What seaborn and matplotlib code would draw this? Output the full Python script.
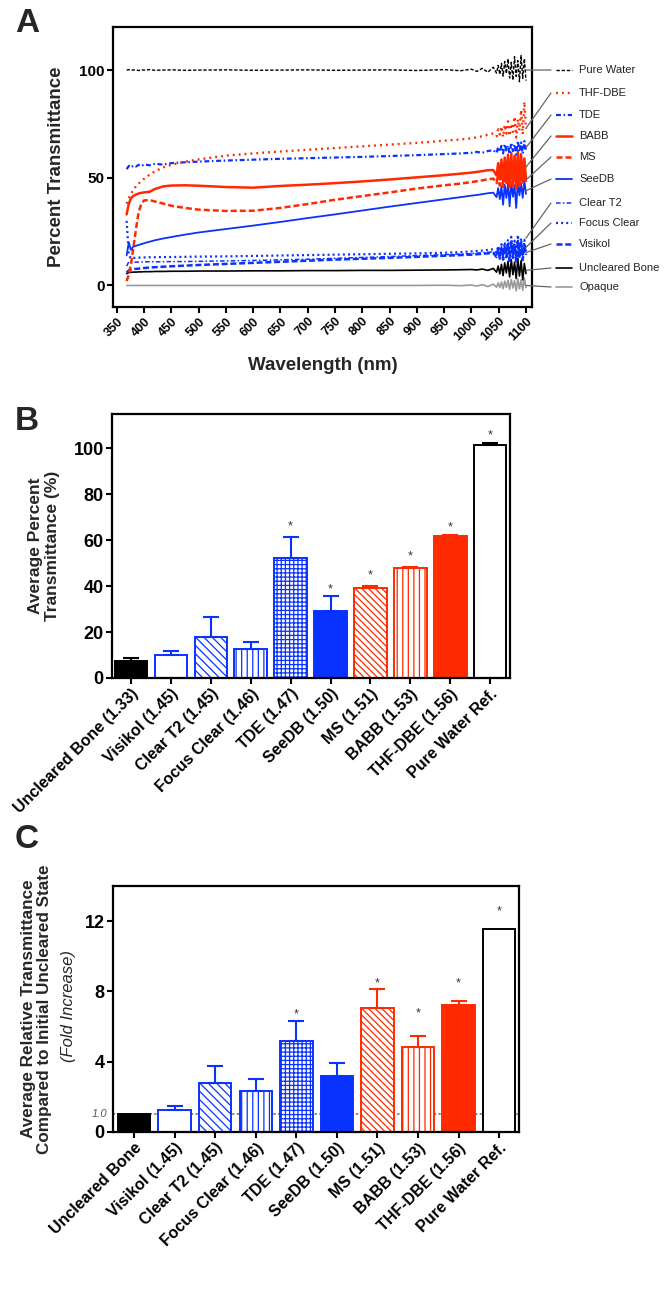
import matplotlib
matplotlib.use("Agg")
import pandas as pd
import seaborn as sns
from matplotlib import pyplot
from matplotlib import transforms
from matplotlib.lines import Line2D
from matplotlib.patches import ConnectionPatch

# ---------------- panel A : transmittance spectra ----------------
wl = [368, 372, 376, 380, 385, 390, 395, 400, 410, 420, 435, 450, 475, 500,
      550, 600, 650, 700, 750, 800, 850, 900, 950, 980, 1000, 1010, 1020, 1030,
      1040, 1046, 1049, 1052, 1055, 1058, 1061, 1064, 1067, 1070, 1073, 1076,
      1079, 1082, 1085, 1088, 1091, 1094, 1097, 1100]

t_pure_water = [100.0, 100.2, 99.9, 100.1, 100.0, 99.8, 100.1, 100.0, 100.2, 99.9, 100.0, 100.1, 99.9, 100.0,
                100.1, 99.9, 100.0, 100.1, 99.9, 100.0, 100.1, 99.8, 100.2, 99.7, 100.4, 99.4, 100.8, 99.0, 101.3,
                98.6, 102.2, 98.0, 103.1, 97.2, 104.0, 98.4, 105.2, 96.3, 103.6,
                95.4, 106.2, 97.1, 104.4, 94.6, 106.8, 96.2, 105.3, 95.1]
t_thf_dbe = [38, 40.5, 42.5, 44.3, 46, 47.3, 48.5, 49.5, 51.5, 53, 54.8, 56, 57.5, 58.5,
             60.3, 61.3, 62.2, 63, 63.8, 64.6, 65.4, 66.2, 67.2, 67.8, 68.3, 68.8, 69.3, 70, 70.6,
             69.2, 72.5, 70.1, 73.8, 68.9, 74.6, 70.5, 76.2, 69.4, 75.1,
             71.3, 78.4, 68.7, 77.2, 72.0, 81.5, 70.2, 85.3, 72.6]
t_tde = [54, 55.5, 54.8, 55.6, 55.2, 56, 55.4, 56.2, 55.8, 56.5, 56.1, 56.8, 57.2, 57.5,
         58, 58.4, 58.8, 59.1, 59.4, 59.7, 60.1, 60.5, 61, 61.3, 61.6, 62, 61.6, 62.4, 62.8,
         61.5, 64.2, 62.1, 64.8, 61.3, 65.6, 62.7, 64.9, 61.0, 66.3,
         62.4, 65.5, 60.8, 67.2, 62.0, 66.4, 61.2, 67.0, 62.5]
t_babb = [33, 38, 40.5, 41.5, 42.2, 42.7, 43, 43.2, 43.5, 44.8, 46, 46.4, 46.5, 46.3,
          45.7, 45.4, 46.2, 46.8, 47.5, 48.3, 49.2, 50.2, 51.2, 51.9, 52.4, 52.7, 53.1, 53.5, 53.6,
          51.0, 56.8, 49.2, 58.5, 47.6, 59.4, 48.3, 60.8, 46.1, 61.5,
          47.0, 60.2, 45.3, 62.4, 46.5, 61.0, 47.8, 59.0, 49.5]
t_ms = [2, 5, 10, 17, 26, 34, 38, 39.5, 39.6, 39, 38, 37, 36, 35.2,
        34.6, 34.7, 36, 37.8, 39.8, 41.5, 43.2, 45, 46.5, 47.3, 48, 48.4, 48.8, 49.3, 49.6,
        47.5, 51.8, 46.4, 52.6, 45.8, 53.5, 46.9, 54.2, 44.9, 55.0,
        46.0, 53.8, 45.2, 55.6, 46.3, 54.5, 47.1, 53.2, 48.0]
t_seedb = [14, 20, 16.5, 18, 18.4, 18.8, 19.2, 19.6, 20.3, 21, 21.8, 22.5, 23.6, 24.6,
           26.2, 27.8, 29.5, 31.3, 33, 34.8, 36.6, 38.3, 40, 41, 41.7, 42, 42.4, 42.8, 43.1,
           41.0, 45.2, 40.1, 46.0, 37.5, 46.8, 40.6, 47.3, 36.8, 48.1,
           41.2, 46.5, 36.0, 48.4, 41.8, 47.2, 40.7, 48.8, 42.5]
t_focus_clear = [30, 14, 12.5, 12.8, 12.8, 12.9, 13, 13, 13.1, 13.1, 13.2, 13.2, 13.3, 13.4,
                 13.5, 13.7, 13.9, 14.1, 14.3, 14.5, 14.7, 14.9, 15.2, 15.5, 15.8, 16, 16.2, 16.5, 16.8,
                 15.2, 18.4, 14.8, 19.1, 14.1, 20.2, 15.5, 21.4, 13.8, 22.6,
                 15.0, 20.8, 13.2, 23.5, 14.6, 22.0, 13.9, 21.2, 16.0]
t_clear_t2 = [9, 11, 10.6, 10.8, 10.8, 10.9, 10.9, 11, 11, 11, 11, 11.1, 11.1, 11.2,
              11.4, 11.6, 11.9, 12.2, 12.6, 13, 13.4, 13.9, 14.3, 14.6, 14.8, 15, 15.2, 15.4, 15.6,
              14.0, 17.2, 13.5, 18.0, 13.0, 18.9, 14.2, 19.6, 12.6, 20.4,
              13.8, 19.2, 12.1, 21.0, 13.5, 20.0, 12.8, 19.5, 15.0]
t_visikol = [6, 7, 7.4, 7.6, 7.7, 7.8, 7.9, 8.1, 8.3, 8.5, 8.7, 8.9, 9.2, 9.5,
             10, 10.5, 11, 11.5, 12, 12.4, 12.8, 13.3, 13.8, 14.1, 14.3, 14.5, 14.7, 14.9, 15.1,
             13.2, 16.8, 12.4, 17.6, 12.0, 18.2, 13.1, 19.0, 11.5, 19.8,
             12.8, 18.5, 11.2, 20.5, 12.6, 19.3, 11.8, 18.8, 14.2]
t_uncleared = [5.5, 6, 6.1, 6.2, 6.2, 6.3, 6.3, 6.4, 6.4, 6.5, 6.5, 6.6, 6.6, 6.7,
               6.7, 6.8, 6.8, 6.9, 6.9, 7, 7, 7.1, 7.2, 7.3, 7.4, 7.2, 7.6, 7.0, 7.9,
               6.2, 9.0, 5.4, 9.8, 4.6, 10.5, 5.8, 11.2, 3.9, 12.0,
               5.0, 10.8, 3.2, 12.6, 4.4, 11.5, 2.6, 10.2, 5.5]
t_opaque = [0, 0, 0, 0, 0, 0, 0, 0, 0, 0, 0, 0, 0, 0,
            0, 0, 0, 0, 0, 0, 0, 0, 0.1, -0.1, 0.2, -0.3, 0.4, -0.5, 0.6,
            -0.8, 1.2, -1.0, 1.6, -1.5, 2.0, -0.9, 2.4, -1.8, 2.8,
            -1.2, 2.2, -2.5, 3.0, -1.6, 2.6, -2.2, 3.4, -1.0]

# ---------------- panels B and C : averages ----------------
b_labels = ['Uncleared Bone (1.33)', 'Visikol (1.45)', 'Clear T2 (1.45)', 'Focus Clear (1.46)',
            'TDE (1.47)', 'SeeDB (1.50)', 'MS (1.51)', 'BABB (1.53)', 'THF-DBE (1.56)',
            'Pure Water Ref.']
b_mean = [7.5, 10.0, 17.7, 12.6, 52.2, 29.3, 39.4, 47.7, 61.9, 101.7]
b_err = [1.0, 1.7, 8.8, 2.9, 9.2, 6.4, 0.6, 0.7, 0.3, 0.5]
b_star = [None, None, None, None, 67.8, 40.4, 46.7, 54.8, 67.5, 107.5]

c_labels = ['Uncleared Bone', 'Visikol (1.45)', 'Clear T2 (1.45)', 'Focus Clear (1.46)',
            'TDE (1.47)', 'SeeDB (1.50)', 'MS (1.51)', 'BABB (1.53)', 'THF-DBE (1.56)',
            'Pure Water Ref.']
c_mean = [1.0, 1.28, 2.8, 2.32, 5.17, 3.2, 7.06, 4.83, 7.23, 11.55]
c_err = [0.0, 0.22, 0.95, 0.67, 1.13, 0.7, 1.06, 0.63, 0.23, 0.0]
c_star = [None, None, None, None, 6.95, None, 8.7, 7.0, 8.7, 12.8]


W, H = 666, 1294
RED = '#ff2a00'
BLUE = '#0a32ff'
GREY = '#9a9a9a'

sns.set_theme(style='ticks')
pyplot.rcParams['font.family'] = ['Liberation Sans', 'DejaVu Sans']
pyplot.rcParams['hatch.linewidth'] = 0.9
pyplot.rcParams['axes.linewidth'] = 1.6
pyplot.rcParams['axes.edgecolor'] = 'black'


def fx(px):
	return px / W


def fy(py):
	return 1 - py / H


def style_ticks(ax, xsize, ysize):
	ax.tick_params(axis='both', which='major', length=4, width=1.5, direction='out',
				   color='black', pad=2)
	ax.tick_params(axis='x', labelsize=xsize)
	ax.tick_params(axis='y', labelsize=ysize)
	for lbl in ax.get_xticklabels() + ax.get_yticklabels():
		lbl.set_fontweight('bold')
		lbl.set_color('black')


fig = pyplot.figure(figsize=(W / 100, H / 100), dpi=100)
fig.patch.set_facecolor('white')

# ---- A ----
spectra = {
	'Opaque': t_opaque,
	'Uncleared Bone': t_uncleared,
	'Visikol': t_visikol,
	'Focus Clear': t_focus_clear,
	'Clear T2': t_clear_t2,
	'SeeDB': t_seedb,
	'MS': t_ms,
	'BABB': t_babb,
	'TDE': t_tde,
	'THF-DBE': t_thf_dbe,
	'Pure Water': t_pure_water,
}
line_style = {
	'Pure Water': ('black', 1.0, (2.4, 1.3)),
	'THF-DBE': (RED, 1.7, (0.8, 1.7)),
	'TDE': (BLUE, 1.6, (2.2, 1.2, 0.7, 1.2)),
	'BABB': (RED, 1.8, ''),
	'MS': (RED, 1.8, (2.4, 1.2)),
	'SeeDB': (BLUE, 1.3, ''),
	'Clear T2': (BLUE, 1.1, (3, 1.5, 1, 1.5)),
	'Focus Clear': (BLUE, 1.6, (0.9, 1.4)),
	'Visikol': (BLUE, 1.8, (2.4, 1.1)),
	'Uncleared Bone': ('black', 1.2, ''),
	'Opaque': (GREY, 1.2, ''),
}
order = list(spectra.keys())
df = pd.DataFrame([(name, w, v) for name, vals in spectra.items() for w, v in zip(wl, vals)],
				  columns=['medium', 'wavelength', 'T'])

axA = fig.add_axes([fx(113), fy(307), (532 - 113) / W, (307 - 27) / H])
sns.lineplot(data=df, x='wavelength', y='T', hue='medium', size='medium', style='medium',
			 hue_order=order, size_order=order, style_order=order,
			 palette={k: v[0] for k, v in line_style.items()},
			 sizes={k: v[1] for k, v in line_style.items()},
			 dashes={k: v[2] for k, v in line_style.items()},
			 estimator=None, errorbar=None, legend=False, ax=axA)
axA.set_xlim(343, 1111)
axA.set_ylim(-10, 120)
axA.set_yticks([0, 50, 100])
axA.set_xticks(range(350, 1101, 50))
axA.set_xticklabels([str(v) for v in range(350, 1101, 50)], rotation=45, ha='right',
					rotation_mode='anchor')
style_ticks(axA, 9, 11)
axA.set_xlabel('Wavelength (nm)', fontsize=13.5, fontweight='bold')
axA.xaxis.set_label_coords(0.5, -0.178)
axA.set_ylabel('Percent Transmittance', fontsize=13.5, fontweight='bold')
axA.yaxis.set_label_coords(-0.115, 0.5)

leg_order = ['Pure Water', 'THF-DBE', 'TDE', 'BABB', 'MS', 'SeeDB', 'Clear T2',
			 'Focus Clear', 'Visikol', 'Uncleared Bone', 'Opaque']
leg_y = [70, 93, 115, 136, 157, 179, 203, 223, 244, 268, 287]
leg_anchor = [100, 73, 64, 55, 49, 44, 22, 17.7, 15.3, 7, 0]
for name, ly, anchor in zip(leg_order, leg_y, leg_anchor):
	color, lw, dash = line_style[name]
	sample = Line2D([fx(556), fx(572)], [fy(ly), fy(ly)], transform=fig.transFigure,
					color=color, lw=lw)
	if dash:
		sample.set_dashes(dash)
	fig.add_artist(sample)
	fig.text(fx(579), fy(ly), name, fontsize=8, va='center', ha='left', color='#222222')
	con = ConnectionPatch(xyA=(1100, anchor), coordsA=axA.transData,
						  xyB=(fx(551), fy(ly)), coordsB=fig.transFigure,
						  color='#666666', lw=0.9)
	fig.add_artist(con)

# ---- B / C ----
bar_styles = [
	('black', 'black', ''),
	('white', BLUE, ''),
	('white', BLUE, '\\\\\\\\'),
	('white', BLUE, '|||'),
	('white', BLUE, '++++'),
	(BLUE, BLUE, ''),
	('white', RED, '\\\\\\\\\\'),
	('white', RED, '|||'),
	(RED, RED, ''),
	('white', 'black', ''),
]


def draw_bars(ax, labels, mean, err, star, width):
	sns.barplot(x=labels, y=mean, ax=ax, width=width, errorbar=None, color='white')
	for patch, (face, edge, hatch) in zip(ax.patches, bar_styles):
		patch.set_facecolor(face)
		patch.set_edgecolor(edge)
		patch.set_hatch(hatch)
		patch.set_linewidth(1.4)
	for i, (m, e, s) in enumerate(zip(mean, err, star)):
		edge = bar_styles[i][1]
		if e > 0:
			ax.errorbar(i, m, yerr=[[0], [e]], fmt='none', ecolor=edge, elinewidth=1.5,
						capsize=6, capthick=1.5)
		if s is not None:
			ax.annotate('*', (i, s), xytext=(0, -5.2), textcoords='offset points',
						ha='center', va='baseline', fontsize=9, color='#333333')
	ax.set_xticks(range(len(labels)))
	ax.set_xticklabels(labels, rotation=45, ha='right', rotation_mode='anchor')
	ax.set_xlabel('')


axB = fig.add_axes([fx(112), fy(678), (510 - 112) / W, (678 - 414) / H])
draw_bars(axB, b_labels, b_mean, b_err, b_star, 0.82)
axB.set_xlim(-0.48, 9.5)
axB.set_ylim(0, 115)
axB.set_yticks([0, 20, 40, 60, 80, 100])
style_ticks(axB, 11.5, 13)
axB.set_ylabel('Average Percent\nTransmittance (%)', fontsize=12.5, fontweight='bold',
			   linespacing=1.15)
axB.yaxis.set_label_coords(-0.13, 0.5)

axC = fig.add_axes([fx(113), fy(1132), (519 - 113) / W, (1132 - 886) / H])
axC.axhline(1.0, color='#666666', ls=(0, (1.5, 1.5)), lw=1.1, zorder=0.5)
draw_bars(axC, c_labels, c_mean, c_err, c_star, 0.8)
axC.set_xlim(-0.52, 9.49)
axC.set_ylim(0, 14)
axC.set_yticks([0, 4, 8, 12])
style_ticks(axC, 11.5, 13)
axC.text(-0.015, 1.0, '1.0', transform=transforms.blended_transform_factory(axC.transAxes, axC.transData),
		 ha='right', va='center', fontsize=8, style='italic', color='#555555')
axC.set_ylabel('Average Relative Transmittance\nCompared to Initial Uncleared State',
			   fontsize=12.3, fontweight='bold', linespacing=1.1)
axC.yaxis.set_label_coords(-0.15, 0.5)
fig.text(fx(69), fy(1006), '(Fold Increase)', rotation=90, ha='center', va='center',
		 fontsize=12, style='italic')

# panel letters
for letter, base in (('A', 32), ('B', 430), ('C', 848)):
	fig.text(fx(15), fy(base), letter, fontsize=24, fontweight='bold', va='baseline')

fig.savefig('out.png', dpi=100, facecolor='white')
